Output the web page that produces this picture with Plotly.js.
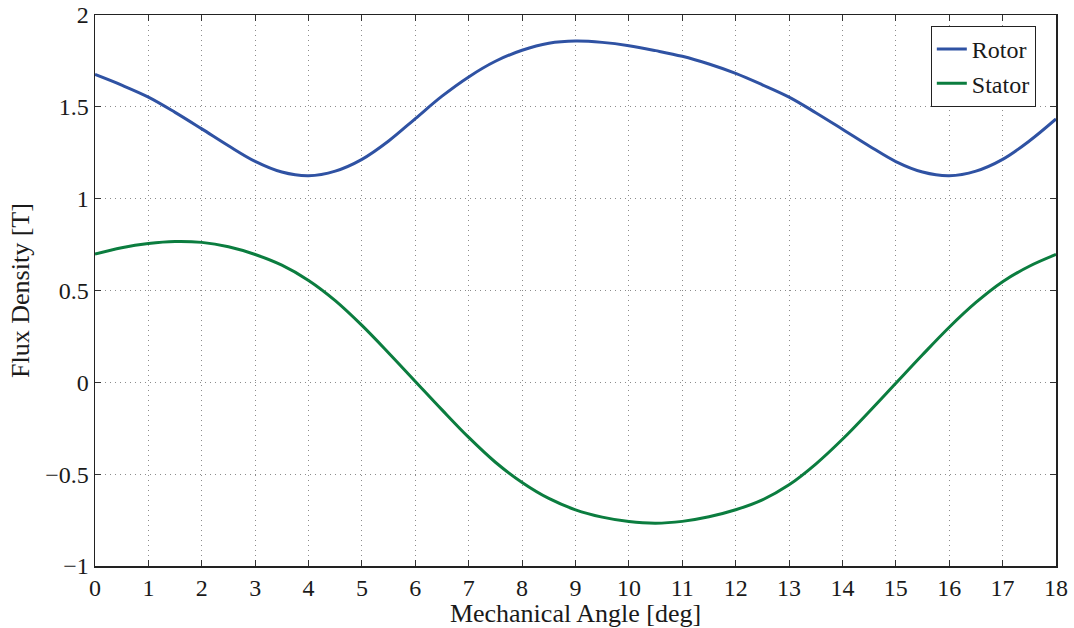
<!DOCTYPE html>
<html>
<head>
<meta charset="utf-8">
<script src="https://cdn.plot.ly/plotly-3.0.1.min.js"></script>
<style>
html,body{margin:0;padding:0;background:#fff;}
#chart{width:1074px;height:628px;}
</style>
</head>
<body>
<div id="chart"></div>
<script>
const angle = [0,0.5,1,1.5,2,2.5,3,3.5,4,4.5,5,5.5,6,6.5,7,7.5,8,8.5,9,9.5,10,10.5,11,11.5,12,12.5,13,13.5,14,14.5,15,15.5,16,16.5,17,17.5,18];
const rotor = [1.676,1.618,1.553,1.470,1.380,1.288,1.203,1.145,1.125,1.150,1.214,1.314,1.436,1.558,1.663,1.748,1.808,1.846,1.858,1.851,1.833,1.806,1.775,1.733,1.682,1.620,1.553,1.468,1.378,1.287,1.202,1.145,1.125,1.150,1.214,1.314,1.434];
const stator = [0.698,0.733,0.756,0.767,0.762,0.738,0.696,0.638,0.555,0.445,0.310,0.160,0.005,-0.150,-0.300,-0.435,-0.545,-0.632,-0.694,-0.734,-0.758,-0.767,-0.757,-0.732,-0.694,-0.640,-0.558,-0.445,-0.310,-0.160,-0.005,0.150,0.300,0.435,0.548,0.632,0.696];
const xTicks = [0,1,2,3,4,5,6,7,8,9,10,11,12,13,14,15,16,17,18];
const yTicks = [-1,-0.5,0,0.5,1,1.5,2];

const fam = 'Liberation Serif';
function f(size) { return {family: fam, size: size, color: '#1a1a1a'}; }
const traces = [
  {x: angle, y: rotor, name: 'Rotor', mode: 'lines', line: {color: '#2F52A3', width: 3, shape: 'spline'}},
  {x: angle, y: stator, name: 'Stator', mode: 'lines', line: {color: '#0B7D3F', width: 3, shape: 'spline'}}
];
function axis(extra) {
  return Object.assign({
    showline: true, linecolor: '#222', linewidth: 1.5, mirror: 'ticks',
    ticks: 'inside', ticklen: 6, tickcolor: '#333', tickwidth: 1,
    showgrid: true, gridcolor: '#8c8c8c', griddash: '1px,4px', gridwidth: 1,
    zeroline: false, tickfont: f(24)
  }, extra);
}
const layout = {
  width: 1074, height: 628,
  margin: {l: 95, r: 18, t: 15, b: 62},
  paper_bgcolor: '#fff', plot_bgcolor: '#fff',
  font: f(24),
  showlegend: true,
  legend: {x: 0.979, y: 0.98, xanchor: 'right', yanchor: 'top', bordercolor: '#222', borderwidth: 1,
           bgcolor: '#fff', font: f(24), tracegroupgap: 0},
  xaxis: axis({range: [0, 18], tickmode: 'array', tickvals: xTicks,
         title: {text: 'Mechanical Angle [deg]', font: f(26), standoff: 6}}),
  yaxis: axis({range: [-1, 2], tickmode: 'array', tickvals: yTicks,
         title: {text: 'Flux Density [T]', font: f(26), standoff: 8}})
};
Plotly.newPlot('chart', traces, layout, {staticPlot: true}).then(function () {
  document.querySelectorAll('#chart text').forEach(function (t) {
    t.style.setProperty('font-family', '"Liberation Serif", serif', 'important');
  });
});
</script>
</body>
</html>
